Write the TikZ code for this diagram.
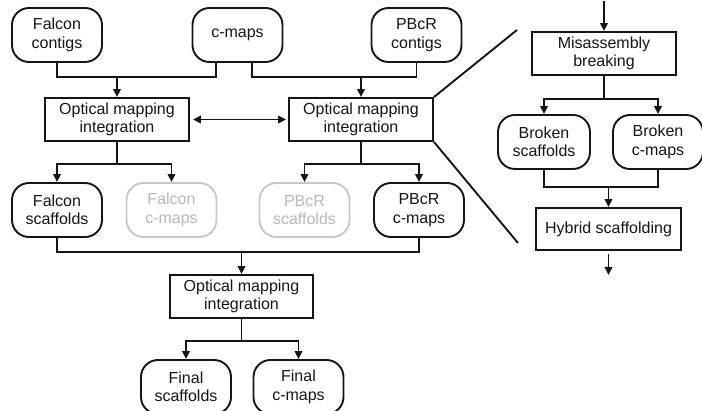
\documentclass[tikz,border=0pt]{standalone}
\usepackage{fontspec}
\setmainfont{Liberation Sans}
\usetikzlibrary{arrows.meta,calc}
\definecolor{fadeline}{HTML}{C8C8C8}
\definecolor{fadetext}{HTML}{B8B8B8}
\definecolor{ink}{HTML}{151515}
\begin{document}
\begin{tikzpicture}[x=1pt,y=-1pt,
  txt/.style={font=\fontsize{16}{18.5}\selectfont, align=center, inner sep=0pt},
  term/.style={txt, draw=ink, text=ink, line width=1.9pt, rounded corners=17pt, minimum width=90pt, minimum height=54pt},
  faded/.style={term, draw=fadeline, text=fadetext},
  proc/.style={txt, draw=ink, text=ink, line width=1.9pt, minimum width=144pt, minimum height=43pt},
  conn/.style={draw=ink, line width=1.9pt},
  tip/.tip={Triangle[length=8pt,width=7.5pt]},
  arr/.style={conn, -tip}]
\path[use as bounding box, clip] (0,0) rectangle (702,411);

% left part
\node[term] (fc) at (57,35) {Falcon\\contigs};
\node[term] (cm) at (237.5,35) {c-maps};
\node[term] (pc) at (416.5,35) {PBcR\\contigs};
\node[proc] (omi1) at (117,119.5) {Optical mapping\\integration};
\node[proc] (omi2) at (361,119.5) {Optical mapping\\integration};
\node[term] (fs) at (57,210) {Falcon\\scaffolds};
\node[faded] (fcm) at (171.5,210) {Falcon\\c-maps};
\node[faded] (ps) at (304.5,210) {PBcR\\scaffolds};
\node[term] (pcm) at (419,210) {PBcR\\c-maps};
\node[proc, minimum width=143pt] (omi3) at (241.5,296.5) {Optical mapping\\integration};
\node[term] (fin1) at (186,387) {Final\\scaffolds};
\node[term] (fin2) at (298.5,387) {Final\\c-maps};

% right part
\node[proc] (mb) at (604,53.5) {Misassembly\\breaking};
\node[term, minimum width=92pt] (bs) at (544,142) {Broken\\scaffolds};
\node[term] (bc) at (658,142) {Broken\\c-maps};
\node[proc, minimum width=145pt, minimum height=42pt] (hs) at (608.5,229) {Hybrid scaffolding};

% level coordinates
\coordinate (y1) at (0,77);
\coordinate (y2) at (0,164);
\coordinate (y3) at (0,252);
\coordinate (y4) at (0,341);
\coordinate (y5) at (0,99);
\coordinate (y6) at (0,187);
\coordinate (topin) at (604,1);
\coordinate (hsout) at (606,275);
\coordinate (d1) at (517,30);
\coordinate (d2) at (518,243);

% top merges
\draw[conn] (fc.south) |- ([xshift=-21.5pt]cm.south |- y1) -- ([xshift=-21.5pt]cm.south);
\draw[arr] (omi1.north |- y1) -- (omi1.north);
\draw[conn] ([xshift=14.5pt]cm.south) |- (pc.south |- y1) -- (pc.south);
\draw[arr] (omi2.north |- y1) -- (omi2.north);
\draw[conn, tip-tip, shorten <=3pt, shorten >=2pt] (omi1.east) -- (omi2.west);

% splits
\draw[conn] (omi1.south) -- (omi1.south |- y2);
\draw[arr] (omi1.south |- y2) -| (fs.north);
\draw[arr] (omi1.south |- y2) -| (fcm.north);
\draw[conn] (omi2.south) -- (omi2.south |- y2);
\draw[arr] (omi2.south |- y2) -| (ps.north);
\draw[arr] (omi2.south |- y2) -| (pcm.north);

% final merge
\draw[conn] (fs.south) |- (pcm.south |- y3) -- (pcm.south);
\draw[arr] (omi3.north |- y3) -- (omi3.north);
\draw[conn] (omi3.south) -- (omi3.south |- y4);
\draw[arr] (omi3.south |- y4) -| (fin1.north);
\draw[arr] (omi3.south |- y4) -| (fin2.north);

% zoom lines
\draw[conn] (omi2.north east) -- (d1);
\draw[conn] (omi2.south east) -- (d2);

% right flow
\draw[arr] (topin) -- (mb.north);
\draw[conn] (mb.south) -- (mb.south |- y5);
\draw[arr] (mb.south |- y5) -| (bs.north);
\draw[arr] (mb.south |- y5) -| (bc.north);
\draw[conn] (bs.south) |- (bc.south |- y6) -- (bc.south);
\draw[arr] (hs.north |- y6) -- (hs.north);
\draw[arr] ([yshift=-3pt]hs.south) -- (hs.south |- hsout);
\end{tikzpicture}
\end{document}
